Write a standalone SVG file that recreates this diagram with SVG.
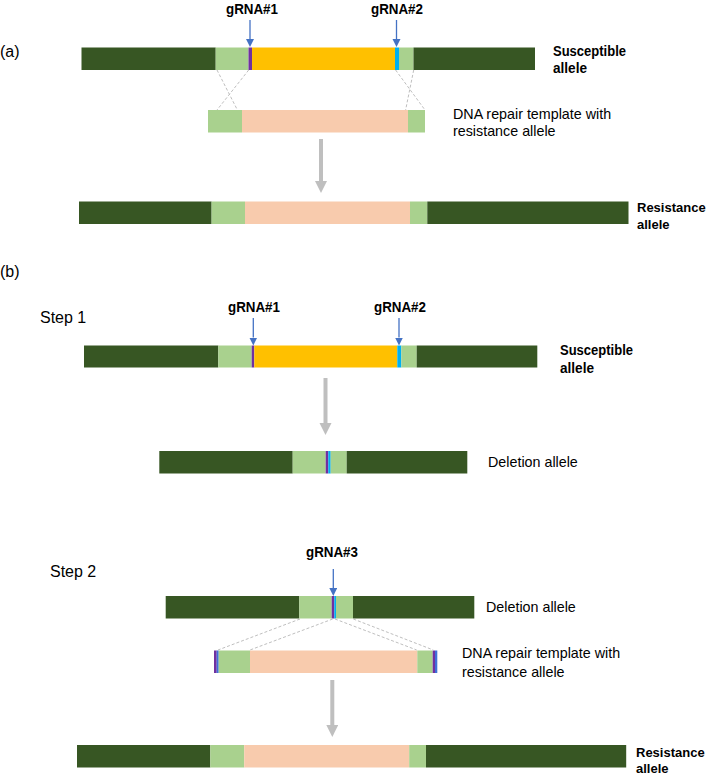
<svg xmlns="http://www.w3.org/2000/svg" width="709" height="776" viewBox="0 0 709 776">
<style>
.dk{fill:#375623}.lg{fill:#a9d18e}.or{fill:#ffc000}.pc{fill:#f8cbad}.pu{fill:#7030a0}.cy{fill:#00b0f0}.bl{fill:#3f6fd8}
text{font-family:"Liberation Sans",Arial,sans-serif;fill:#000}
.b{font-weight:bold;font-size:14px}
.bs{font-weight:bold;font-size:13px}
.r{font-size:14.3px}
.p{font-size:16px}
.g{font-weight:bold;font-size:14px;text-anchor:middle}
.ba{stroke:#4472c4;stroke-width:1.3;fill:none}
.ga{stroke:#bfbfbf;stroke-width:4;fill:none}
.ds{stroke:#bfbfbf;stroke-width:1;stroke-dasharray:3 2;fill:none}
</style>
<defs>
<marker id="mb" markerUnits="userSpaceOnUse" markerWidth="9" markerHeight="9" refX="0" refY="4" orient="auto"><path d="M0,0 L8,4 L0,8 z" fill="#4472c4"/></marker>
<marker id="mg" markerUnits="userSpaceOnUse" markerWidth="13" markerHeight="13" refX="0" refY="6" orient="auto"><path d="M0,0 L12,6 L0,12 z" fill="#bfbfbf"/></marker>
</defs>

<text class="p" x="0" y="57">(a)</text>
<text class="p" x="0" y="277">(b)</text>
<text class="p" x="40" y="323">Step 1</text>
<text class="p" x="50" y="577">Step 2</text>

<g id="a-susceptible">
<rect class="dk" x="81.5" y="47.5" width="134.2" height="22.5"/>
<rect class="lg" x="215.7" y="47.5" width="32.8" height="22.5"/>
<rect class="pu" x="248.5" y="47.5" width="3.5" height="22.5"/>
<rect class="or" x="252" y="47.5" width="143" height="22.5"/>
<rect class="cy" x="395" y="47.5" width="4" height="22.5"/>
<rect class="lg" x="399" y="47.5" width="14.5" height="22.5"/>
<rect class="dk" x="413.5" y="47.5" width="121.5" height="22.5"/>
<text class="b" x="553" y="56" textLength="73" lengthAdjust="spacingAndGlyphs">Susceptible</text>
<text class="b" x="553" y="73" textLength="34" lengthAdjust="spacingAndGlyphs">allele</text>
</g>
<g id="a-grna1"><text class="g" x="252" y="14" textLength="52" lengthAdjust="spacingAndGlyphs">gRNA#1</text></g>
<g id="a-grna2"><text class="g" x="397" y="14" textLength="52" lengthAdjust="spacingAndGlyphs">gRNA#2</text></g>

<g id="a-template">
<rect class="lg" x="208" y="110" width="34" height="22.5"/>
<rect class="pc" x="242" y="110" width="166" height="22.5"/>
<rect class="lg" x="408" y="110" width="17" height="22.5"/>
<text class="r" x="453" y="118.5">DNA repair template with</text>
<text class="r" x="453" y="136">resistance allele</text>
</g>

<g id="a-resistance">
<rect class="dk" x="79" y="201.5" width="132.6" height="22.5"/>
<rect class="lg" x="211.6" y="201.5" width="33.4" height="22.5"/>
<rect class="pc" x="245" y="201.5" width="165" height="22.5"/>
<rect class="lg" x="410" y="201.5" width="17.3" height="22.5"/>
<rect class="dk" x="427.3" y="201.5" width="201.2" height="22.5"/>
<text class="bs" x="637" y="212">Resistance</text>
<text class="bs" x="637" y="229">allele</text>
</g>

<g id="b1-susceptible">
<rect class="dk" x="84" y="345.5" width="134.3" height="22"/>
<rect class="lg" x="218.3" y="345.5" width="33.4" height="22"/>
<rect class="pu" x="251.7" y="345.5" width="2.6" height="22"/>
<rect class="or" x="254.3" y="345.5" width="143" height="22"/>
<rect class="cy" x="397.3" y="345.5" width="4" height="22"/>
<rect class="lg" x="401.3" y="345.5" width="15.4" height="22"/>
<rect class="dk" x="416.7" y="345.5" width="120.6" height="22"/>
<text class="b" x="560" y="355" textLength="73" lengthAdjust="spacingAndGlyphs">Susceptible</text>
<text class="b" x="560" y="372.5" textLength="34" lengthAdjust="spacingAndGlyphs">allele</text>
</g>
<g id="b1-grna1"><text class="g" x="254" y="312" textLength="52" lengthAdjust="spacingAndGlyphs">gRNA#1</text></g>
<g id="b1-grna2"><text class="g" x="400" y="312" textLength="52" lengthAdjust="spacingAndGlyphs">gRNA#2</text></g>

<g id="b1-deletion">
<rect class="dk" x="159.3" y="451" width="133.4" height="22.5"/>
<rect class="lg" x="292.7" y="451" width="33" height="22.5"/>
<rect class="pu" x="325.7" y="451" width="2.6" height="22.5"/>
<rect class="cy" x="328.3" y="451" width="2.4" height="22.5"/>
<rect class="lg" x="330.7" y="451" width="16" height="22.5"/>
<rect class="dk" x="346.7" y="451" width="120.6" height="22.5"/>
<text class="r" x="488" y="467">Deletion allele</text>
</g>

<g id="b2-grna3"><text class="g" x="332" y="557" textLength="52" lengthAdjust="spacingAndGlyphs">gRNA#3</text></g>

<g id="b2-deletion">
<rect class="dk" x="165.7" y="596" width="133.6" height="22.5"/>
<rect class="lg" x="299.3" y="596" width="32.4" height="22.5"/>
<rect class="pu" x="331.7" y="596" width="2.6" height="22.5"/>
<rect class="cy" x="334.3" y="596" width="1.7" height="22.5"/>
<rect class="lg" x="336" y="596" width="17" height="22.5"/>
<rect class="dk" x="353" y="596" width="121.3" height="22.5"/>
<text class="r" x="486" y="611.5">Deletion allele</text>
</g>

<g id="b2-template">
<rect class="pu" x="214" y="650.5" width="2.7" height="22.5"/>
<rect class="bl" x="216.7" y="650.5" width="2" height="22.5"/>
<rect class="lg" x="218.7" y="650.5" width="31.3" height="22.5"/>
<rect class="pc" x="250" y="650.5" width="167.3" height="22.5"/>
<rect class="lg" x="417.3" y="650.5" width="15.4" height="22.5"/>
<rect class="pu" x="432.7" y="650.5" width="2.3" height="22.5"/>
<rect class="bl" x="435" y="650.5" width="2.3" height="22.5"/>
<text class="r" x="462" y="658">DNA repair template with</text>
<text class="r" x="462" y="676.5">resistance allele</text>
</g>

<g id="b2-resistance">
<rect class="dk" x="77" y="745" width="133.3" height="22.5"/>
<rect class="lg" x="210.3" y="745" width="33.9" height="22.5"/>
<rect class="pc" x="244.2" y="745" width="165" height="22.5"/>
<rect class="lg" x="409.2" y="745" width="16.8" height="22.5"/>
<rect class="dk" x="426" y="745" width="200.2" height="22.5"/>
<text class="bs" x="636" y="757">Resistance</text>
<text class="bs" x="636" y="773">allele</text>
</g>

<g id="connectors">
<line class="ba" x1="250" y1="20" x2="250" y2="39" marker-end="url(#mb)"/>
<line class="ba" x1="396.5" y1="20" x2="396.5" y2="39" marker-end="url(#mb)"/>
<line class="ba" x1="253.3" y1="318" x2="253.3" y2="337.5" marker-end="url(#mb)"/>
<line class="ba" x1="399" y1="318" x2="399" y2="337.5" marker-end="url(#mb)"/>
<line class="ba" x1="333.3" y1="569" x2="333.3" y2="588" marker-end="url(#mb)"/>
<line class="ga" x1="321" y1="139" x2="321" y2="181" marker-end="url(#mg)"/>
<line class="ga" x1="325.5" y1="378" x2="325.5" y2="423" marker-end="url(#mg)"/>
<line class="ga" x1="332.3" y1="680" x2="332.3" y2="725" marker-end="url(#mg)"/>
<line class="ds" x1="217" y1="70" x2="237.4" y2="110"/>
<line class="ds" x1="248.7" y1="70" x2="217" y2="110"/>
<line class="ds" x1="395.6" y1="70" x2="425" y2="110"/>
<line class="ds" x1="413.7" y1="70" x2="405.6" y2="110"/>
<line class="ds" x1="300" y1="619" x2="218" y2="650"/>
<line class="ds" x1="332.7" y1="619" x2="250" y2="650"/>
<line class="ds" x1="335" y1="619" x2="416.7" y2="650"/>
<line class="ds" x1="353.3" y1="619" x2="433.3" y2="650"/>
</g>
</svg>
